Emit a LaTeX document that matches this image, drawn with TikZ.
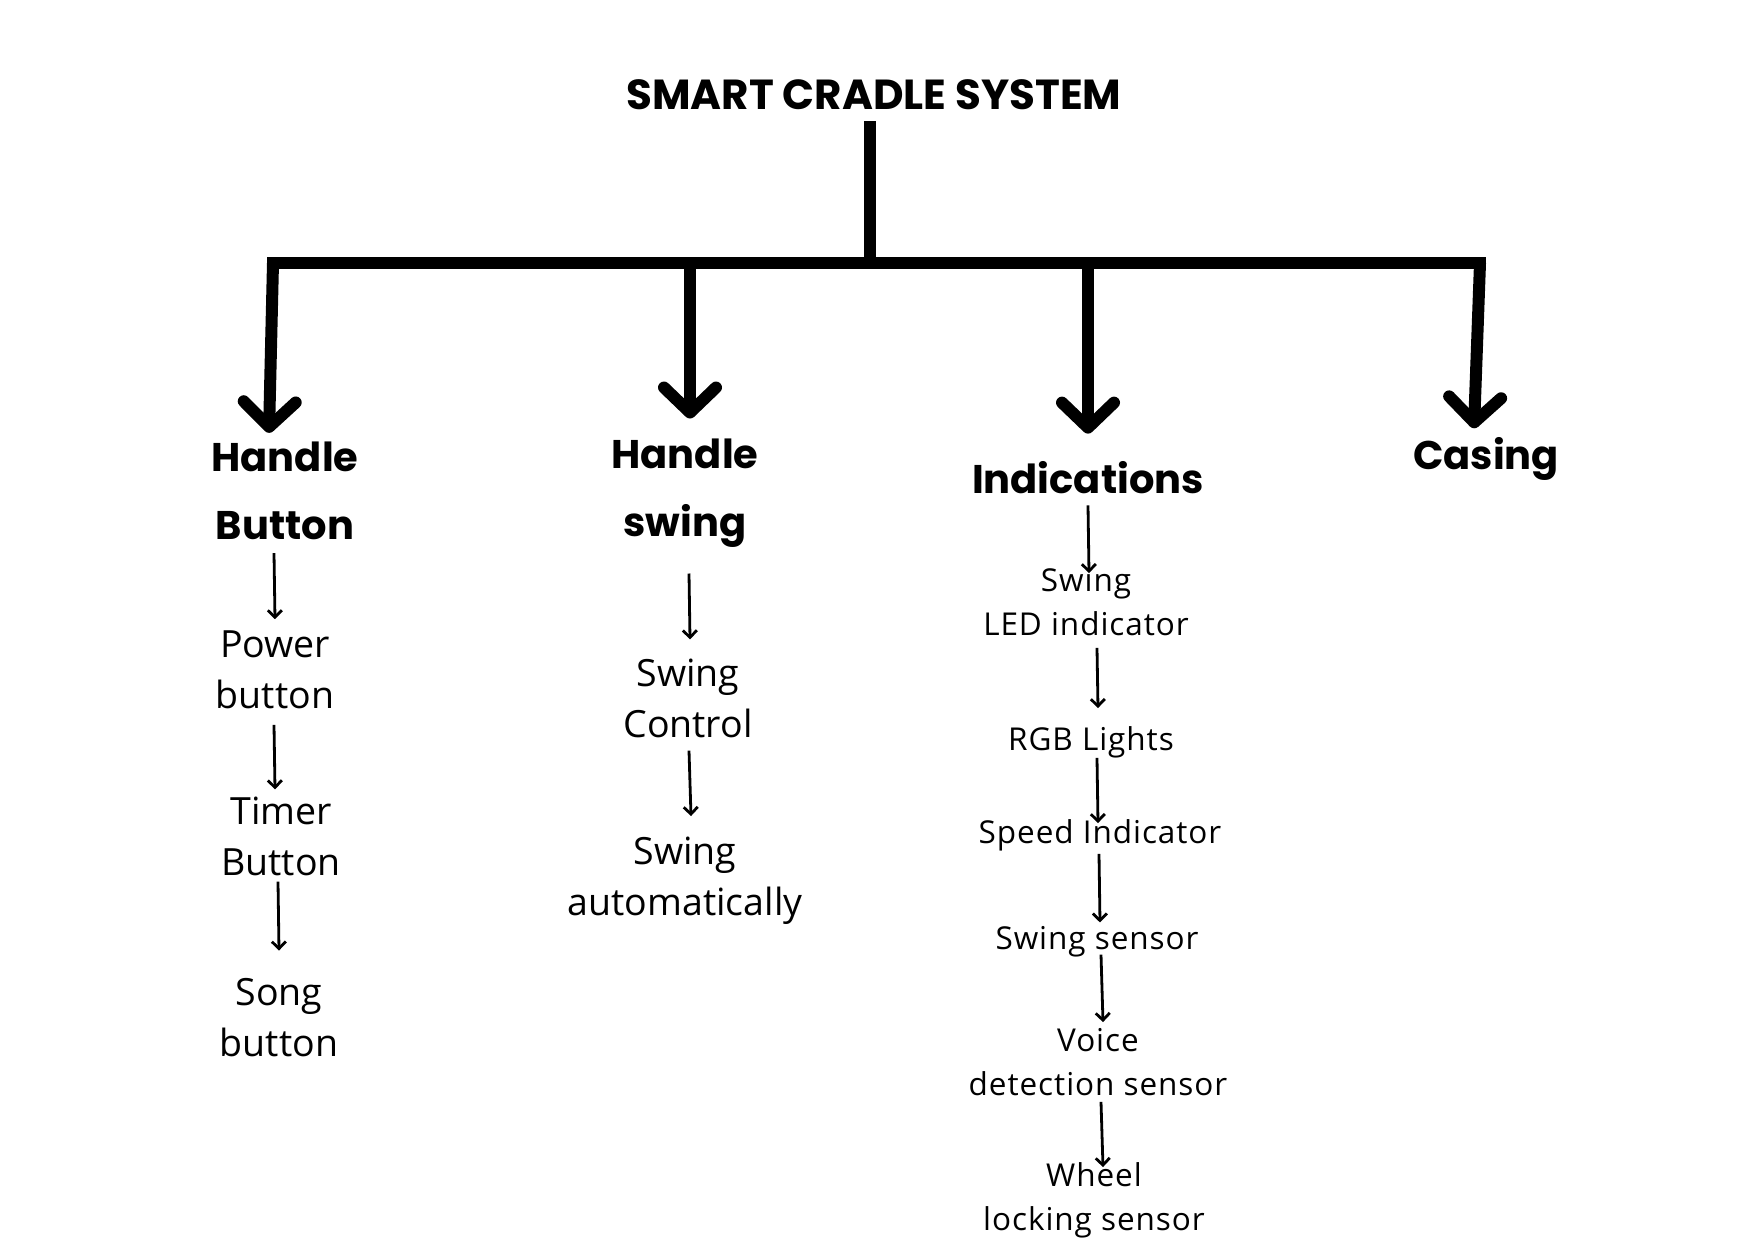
\documentclass[tikz,border=0pt]{standalone}
\usepackage{fontspec}
\setmainfont{Open Sans}
\newfontfamily\hdfont{Poppins}
\newfontfamily\spfont{Open Sans}[LetterSpace=3]
\usetikzlibrary{arrows.meta}
\tikzset{
 titletext/.style={font=\hdfont\bfseries\fontsize{42}{50}\selectfont, inner sep=0pt},
 head/.style={font=\hdfont\bfseries\fontsize{40}{68}\selectfont, align=center, inner sep=0pt},
 item/.style={font=\fontsize{37.5}{51}\selectfont, align=center, inner sep=0pt},
 sitem/.style={font=\spfont\fontsize{31.5}{44}\selectfont, align=center, inner sep=0pt},
 trunk/.style={line width=12pt},
 bigarrow/.style={line width=12pt, -{Straight Barb[length=25pt,width=52pt,round]}},
 sarrow/.style={line width=2.8pt, -{Straight Barb[length=7pt,width=14pt]}},
}
\begin{document}
\begin{tikzpicture}[x=1pt,y=-1pt]
\useasboundingbox[fill=white] (0,0) rectangle (1748,1240);
\node[titletext] (T) at (874,95) {SMART CRADLE SYSTEM};
\coordinate (bm) at (870,263);
\coordinate (bl) at (267,263);
\coordinate (br) at (1486,263);
\coordinate (b1) at (273,263);
\coordinate (b2) at (690,263);
\coordinate (b3) at (1088,263);
\coordinate (b4) at (1480,263);
\draw[trunk] ([xshift=-4pt,yshift=-11pt]T.south) -- (bm);
\draw[trunk] (bl) -- (br);

\node[head] (HB) at (285,491) {Handle\\Button};
\node[head] (HS) at (685,493) {Handle\\swing};
\node[head] (IN) at (1088,478) {Indications};
\node[head] (CA) at (1486,459) {Casing};

\draw[bigarrow] (b1) -- ([xshift=-16pt,yshift=9pt]HB.north);
\draw[bigarrow] (b2) -- ([xshift=5pt,yshift=20pt]HS.north);
\draw[bigarrow] (b3) -- ([yshift=28pt]IN.north);
\draw[bigarrow] (b4) -- ([xshift=-12pt,yshift=9pt]CA.north);

\node[item] (PB) at (275,669.5) {Power\\button};
\node[item] (TB) at (281,836) {Timer\\Button};
\node[item] (SB) at (279,1018) {Song\\button};
\node[item] (SC) at (688,698) {Swing\\Control};
\node[item] (SA) at (685,881) {Swing\\automatically};
\node[sitem] (SL) at (1086,602) {Swing\\LED indicator};
\node[sitem] (RG) at (1091,742) {RGB Lights};
\node[sitem] (SI) at (1100,835) {Speed Indicator};
\node[sitem] (SS) at (1097,942) {Swing sensor};
\node[sitem] (VD) at (1098,1062) {Voice\\detection sensor};
\node[sitem] (WL) at (1094,1200) {Wheel\\locking sensor};

\draw[sarrow] ([xshift=-11pt,yshift=-13pt]HB.south) -- ([yshift=11pt]PB.north);
\draw[sarrow] ([xshift=-1pt,yshift=-16pt]PB.south) -- ([xshift=-6pt,yshift=7pt]TB.north);
\draw[sarrow] ([xshift=-3pt,yshift=-6pt]TB.south) -- ([yshift=28pt]SB.north);
\draw[sarrow] ([xshift=4pt,yshift=-26pt]HS.south) -- ([xshift=2pt,yshift=19pt]SC.north);
\draw[sarrow] ([xshift=1pt,yshift=-13pt]SC.south) -- ([xshift=6pt,yshift=21pt]SA.north);
\draw[sarrow] ([yshift=-11pt]IN.south) -- ([xshift=3pt,yshift=-5pt]SL.north);
\draw[sarrow] ([xshift=11pt,yshift=-12pt]SL.south) -- ([xshift=7pt,yshift=18pt]RG.north);
\draw[sarrow] ([xshift=6pt]RG.south) -- ([xshift=-2pt,yshift=-4pt]SI.north);
\draw[sarrow] ([xshift=-1pt,yshift=-3pt]SI.south) -- ([xshift=3pt,yshift=4pt]SS.north);
\draw[sarrow] ([xshift=4pt,yshift=3pt]SS.south) -- ([xshift=5pt,yshift=6pt]VD.north);
\draw[sarrow] ([xshift=3pt,yshift=-6pt]VD.south) -- ([xshift=9pt,yshift=-5pt]WL.north);
\end{tikzpicture}
\end{document}
